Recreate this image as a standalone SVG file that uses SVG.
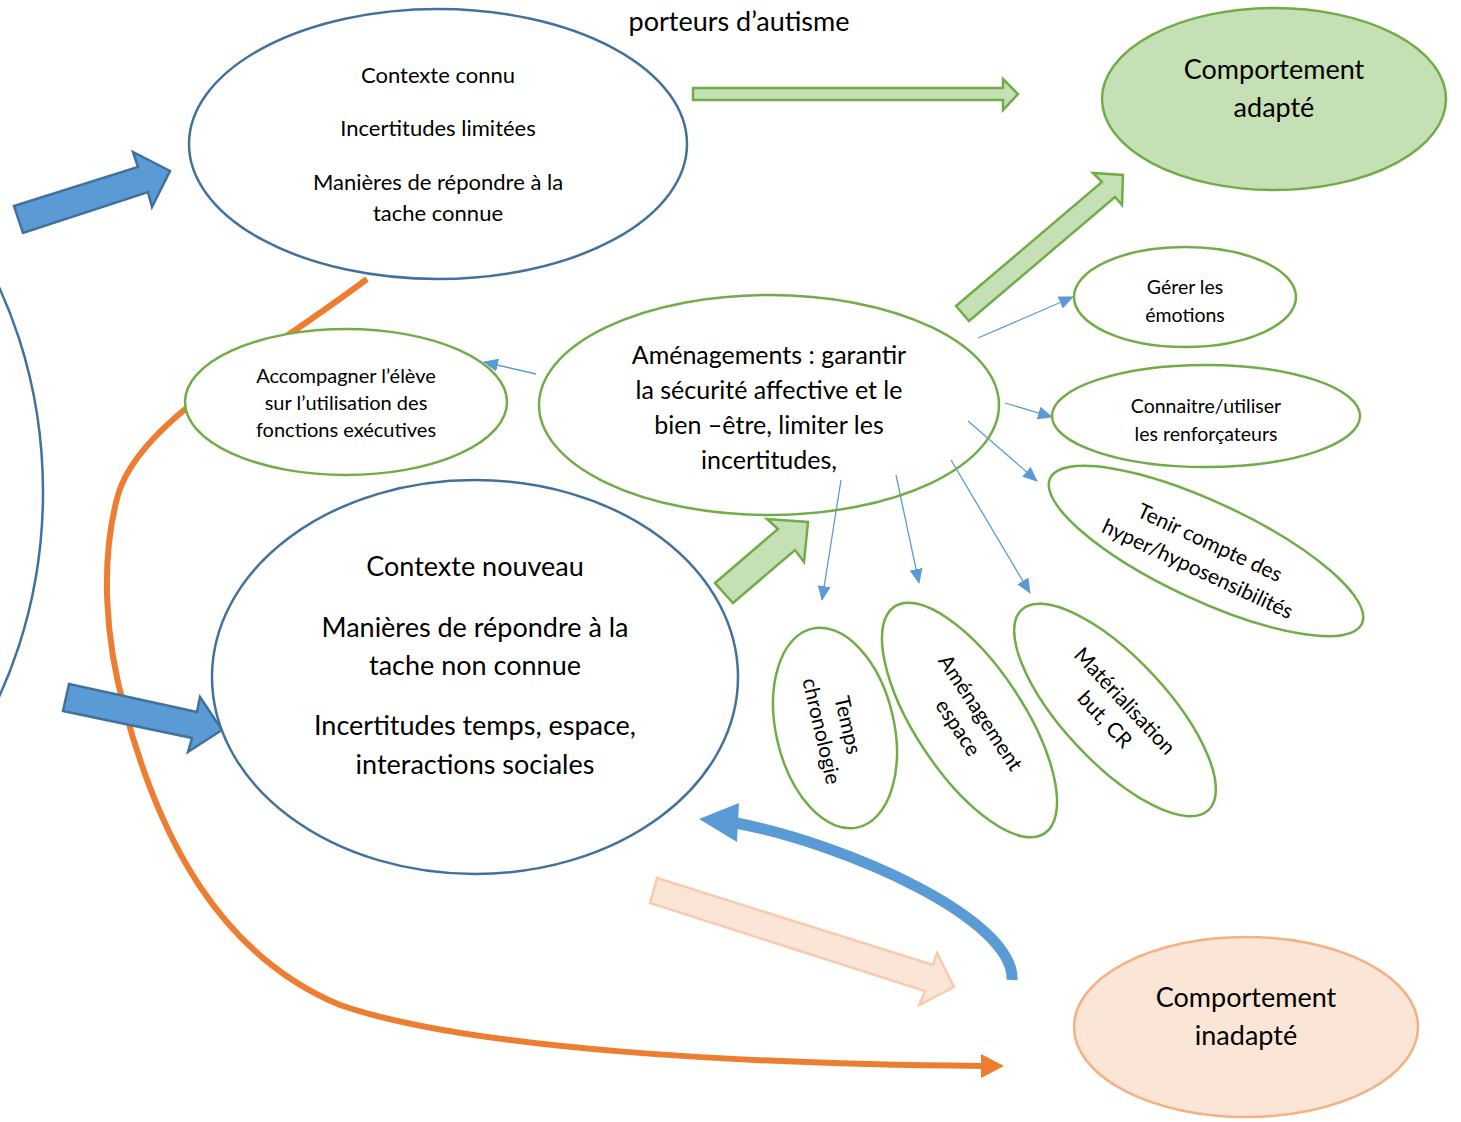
<svg xmlns="http://www.w3.org/2000/svg" width="1461" height="1122" viewBox="0 0 1461 1122">
<style>
.t{font-family:Lato,"Liberation Sans",sans-serif;fill:#000;text-anchor:middle}
.be{fill:#fff;stroke:#41719c;stroke-width:2.5}
.ge{fill:#fff;stroke:#70ad47;stroke-width:2.5}
.gn{fill:none;stroke:#70ad47;stroke-width:2.5}
.conn{stroke:#5b9bd5;stroke-width:1.3;fill:none;marker-end:url(#ah)}
.gblk{fill:#c5e0b4;stroke:#70ad47;stroke-width:2.5;stroke-linejoin:miter}
.bblk{fill:#5b9bd5;stroke:#41719c;stroke-width:2.5}
</style>
<defs>
<marker id="ah" markerUnits="userSpaceOnUse" markerWidth="15" markerHeight="13" refX="14" refY="6.5" orient="auto">
<path d="M0,0 L15,6.5 L0,13 z" fill="#5b9bd5"/>
</marker>
</defs>
<rect width="1461" height="1122" fill="#fff"/>
<text class="t" x="739" y="31" font-size="27">porteurs d’autisme</text>
<g id="big-left"><ellipse cx="-300" cy="492" rx="343" ry="418" fill="none" stroke="#41719c" stroke-width="2.5"/></g>
<g id="connectors">
<path d="M 367 279 C 260 360, 140 420, 118 495 C 100 560, 105 640, 125 710 C 160 840, 220 955, 340 1005 C 470 1050, 750 1064, 982 1066" fill="none" stroke="#ed7d31" stroke-width="6"/>
<polygon points="981,1054 1004,1066 981,1078" fill="#ed7d31"/>
<polygon class="bblk" points="14,206 138,167 133,152 170,171 152,207 148,192 23,233"/>
<polygon class="bblk" points="69,684 197,712 200,697 222,730 188,752 192,738 63,711"/>
<polygon class="gblk" points="693,88 1003,88 1003,79 1018,94 1003,110 1003,100 693,100"/>
<polygon class="gblk" points="956,306 1102,182 1093,173 1123,175 1122,205 1115,197 969,321"/>
<polygon class="gblk" points="715,583 778,529 767,519 808,522 804,562 795,550 733,603"/>
<polygon points="657,878 933,965 937,953 954,987 919,1005 925,991 650,903" fill="#fbe5d6" stroke="#f8cbad" stroke-width="2.5"/>
<path d="M 1012 980 C 1015 920, 850 845, 736 823" fill="none" stroke="#5b9bd5" stroke-width="11"/>
<polygon points="699,819 739,803 737,842" fill="#5b9bd5"/>
<line class="conn" x1="536" y1="374" x2="484" y2="362"/>
<line class="conn" x1="978" y1="338" x2="1073" y2="297"/>
<line class="conn" x1="1005" y1="403" x2="1052" y2="417"/>
<line class="conn" x1="968" y1="421" x2="1037" y2="481"/>
<line class="conn" x1="841" y1="480" x2="822" y2="600"/>
<line class="conn" x1="896" y1="475" x2="919" y2="583"/>
<line class="conn" x1="951" y1="460" x2="1030" y2="593"/>
</g>
<g id="contexte-connu">
<ellipse class="be" cx="438" cy="144" rx="249" ry="135"/>
<text class="t" font-size="22" x="438" y="83">Contexte connu</text>
<text class="t" font-size="22" x="438" y="136">Incertitudes limitées</text>
<text class="t" font-size="22" x="438" y="190">Manières de répondre à la</text>
<text class="t" font-size="22" x="438" y="221">tache connue</text>
</g>
<g id="contexte-nouveau">
<ellipse class="be" cx="475" cy="677" rx="263" ry="197"/>
<text class="t" font-size="27" x="475" y="576">Contexte nouveau</text>
<text class="t" font-size="27" x="475" y="637">Manières de répondre à la</text>
<text class="t" font-size="27" x="475" y="675">tache non connue</text>
<text class="t" font-size="27" x="475" y="735">Incertitudes temps, espace,</text>
<text class="t" font-size="27" x="475" y="774">interactions sociales</text>
</g>
<g id="comportement-adapte">
<ellipse cx="1274" cy="99" rx="172" ry="91" fill="#c5e0b4" stroke="#70ad47" stroke-width="2.5"/>
<text class="t" font-size="27" x="1274" y="79">Comportement</text>
<text class="t" font-size="27" x="1274" y="117">adapté</text>
</g>
<g id="amenagements">
<ellipse class="gn" cx="769" cy="405" rx="230" ry="110"/>
<text class="t" font-size="25" x="769" y="364">Aménagements : garantir</text>
<text class="t" font-size="25" x="769" y="399">la sécurité affective et le</text>
<text class="t" font-size="25" x="769" y="434">bien –être, limiter les</text>
<text class="t" font-size="25" x="769" y="469">incertitudes,</text>
</g>
<g id="accompagner">
<ellipse class="ge" cx="346" cy="402" rx="161" ry="73"/>
<text class="t" font-size="20" x="346" y="383">Accompagner l’élève</text>
<text class="t" font-size="20" x="346" y="410">sur l’utilisation des</text>
<text class="t" font-size="20" x="346" y="437">fonctions exécutives</text>
</g>
<g id="gerer">
<ellipse class="ge" cx="1185" cy="297" rx="111" ry="50"/>
<text class="t" font-size="19.5" x="1185" y="294">Gérer les</text>
<text class="t" font-size="19.5" x="1185" y="322">émotions</text>
</g>
<g id="connaitre">
<ellipse class="ge" cx="1206" cy="416" rx="154" ry="51"/>
<text class="t" font-size="19.5" x="1206" y="413">Connaitre/utiliser</text>
<text class="t" font-size="19.5" x="1206" y="441">les renforçateurs</text>
</g>
<g id="tenir-compte" transform="translate(1206,551) rotate(25)">
<ellipse class="ge" cx="0" cy="0" rx="172" ry="49"/>
<text class="t" font-size="21" x="0" y="-2">Tenir compte des</text>
<text class="t" font-size="21" x="0" y="27">hyper/hyposensibilités</text>
</g>
<g id="temps" transform="translate(835,728) rotate(77)">
<ellipse class="ge" cx="0" cy="0" rx="102" ry="59"/>
<text class="t" font-size="21" x="0" y="-6">Temps</text>
<text class="t" font-size="21" x="0" y="21">chronologie</text>
</g>
<g id="amenagement-espace" transform="translate(969.5,720) rotate(56.5)">
<ellipse class="ge" cx="0" cy="0" rx="136" ry="54"/>
<text class="t" font-size="21" x="0" y="-6">Aménagement</text>
<text class="t" font-size="21" x="0" y="21">espace</text>
</g>
<g id="materialisation" transform="translate(1115,710) rotate(47)">
<ellipse class="ge" cx="0" cy="0" rx="137" ry="52"/>
<text class="t" font-size="21" x="0" y="-6">Matérialisation</text>
<text class="t" font-size="21" x="0" y="21">but, CR</text>
</g>
<g id="comportement-inadapte">
<ellipse cx="1246" cy="1027" rx="172" ry="90" fill="#fbe5d6" stroke="#f4b183" stroke-width="2.5"/>
<text class="t" font-size="27" x="1246" y="1007">Comportement</text>
<text class="t" font-size="27" x="1246" y="1045">inadapté</text>
</g>
</svg>
